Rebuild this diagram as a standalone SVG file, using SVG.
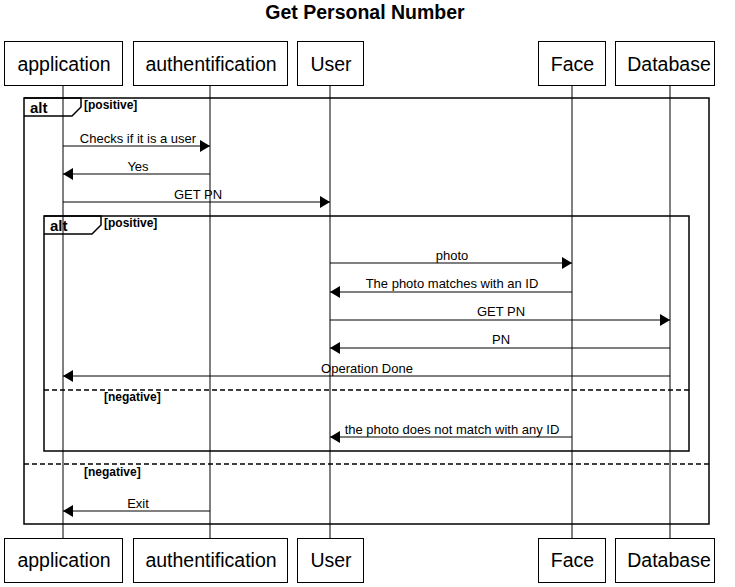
<svg xmlns="http://www.w3.org/2000/svg" width="735" height="587" viewBox="0 0 735 587">
<style>
.box{fill:#fff;stroke:#000;stroke-width:1}
.ptxt{font-family:"Liberation Sans",Arial,sans-serif;font-size:19.5px;text-anchor:middle;fill:#000}
.life{stroke:#000;stroke-width:1}
.msg{stroke:#000;stroke-width:1;fill:none}
.mtxt{font-family:"Liberation Sans",Arial,sans-serif;font-size:13px;text-anchor:middle;fill:#000}
.frame{fill:none;stroke:#000;stroke-width:1.5}
.sep{stroke:#000;stroke-width:1.5;stroke-dasharray:5,3}
.alt{font-family:"Liberation Sans",Arial,sans-serif;font-size:15px;font-weight:bold;fill:#000}
.guard{font-family:"Liberation Sans",Arial,sans-serif;font-size:12px;font-weight:bold;fill:#000}
</style>
<defs>
<marker id="ah" viewBox="0 0 10 12" refX="10" refY="6" markerWidth="10" markerHeight="12" markerUnits="userSpaceOnUse" orient="auto">
<path d="M0,0 L10,6 L0,12 Z" fill="#000"/>
</marker>
</defs>
<rect width="735" height="587" fill="#fff"/>
<text x="365" y="19" font-family="Liberation Sans,Arial,sans-serif" font-size="19.5" font-weight="bold" text-anchor="middle">Get Personal Number</text>

<g id="lifelines">
<line class="life" x1="63" y1="86" x2="63" y2="538"/>
<line class="life" x1="210" y1="86" x2="210" y2="538"/>
<line class="life" x1="330" y1="86" x2="330" y2="538"/>
<line class="life" x1="572" y1="86" x2="572" y2="538"/>
<line class="life" x1="670" y1="86" x2="670" y2="538"/>
</g>

<g id="application">
<rect class="box" x="4.5" y="41.5" width="118" height="44"/>
<text class="ptxt" x="64" y="71">application</text>
<rect class="box" x="4.5" y="538.5" width="118" height="44"/>
<text class="ptxt" x="64" y="567">application</text>
</g>
<g id="authentification">
<rect class="box" x="133.5" y="41.5" width="154" height="44"/>
<text class="ptxt" x="211" y="71">authentification</text>
<rect class="box" x="133.5" y="538.5" width="154" height="44"/>
<text class="ptxt" x="211" y="567">authentification</text>
</g>
<g id="User">
<rect class="box" x="297.5" y="41.5" width="66" height="44"/>
<text class="ptxt" x="331" y="71">User</text>
<rect class="box" x="297.5" y="538.5" width="66" height="44"/>
<text class="ptxt" x="331" y="567">User</text>
</g>
<g id="Face">
<rect class="box" x="538.5" y="41.5" width="67" height="44"/>
<text class="ptxt" x="572.5" y="71">Face</text>
<rect class="box" x="538.5" y="538.5" width="67" height="44"/>
<text class="ptxt" x="572.5" y="567">Face</text>
</g>
<g id="Database">
<rect class="box" x="615.5" y="41.5" width="99" height="44"/>
<text class="ptxt" x="669" y="71">Database</text>
<rect class="box" x="615.5" y="538.5" width="99" height="44"/>
<text class="ptxt" x="669" y="567">Database</text>
</g>

<g id="frames">
<rect class="frame" x="24" y="98" width="685" height="426"/>
<path class="frame" d="M24,98 H81 V107 L72,116 H24"/>
<text class="alt" x="30" y="113">alt</text>
<text class="guard" x="84" y="109">[positive]</text>
<line class="sep" x1="24" y1="464" x2="709" y2="464"/>
<text class="guard" x="84" y="476">[negative]</text>

<rect class="frame" x="44" y="216" width="645" height="235"/>
<path class="frame" d="M44,216 H101 V225 L92,234 H44"/>
<text class="alt" x="50" y="231">alt</text>
<text class="guard" x="104" y="227">[positive]</text>
<line class="sep" x1="44" y1="390" x2="689" y2="390"/>
<text class="guard" x="104" y="401">[negative]</text>
</g>

<g id="connectors">
<line class="msg" x1="63" y1="146" x2="210" y2="146" marker-end="url(#ah)"/>
<text class="mtxt" x="138" y="143">Checks if it is a user</text>
<line class="msg" x1="210" y1="174" x2="63" y2="174" marker-end="url(#ah)"/>
<text class="mtxt" x="138" y="171">Yes</text>
<line class="msg" x1="63" y1="202" x2="330" y2="202" marker-end="url(#ah)"/>
<text class="mtxt" x="198" y="199">GET PN</text>
<line class="msg" x1="330" y1="263" x2="572" y2="263" marker-end="url(#ah)"/>
<text class="mtxt" x="452" y="260">photo</text>
<line class="msg" x1="572" y1="292" x2="330" y2="292" marker-end="url(#ah)"/>
<text class="mtxt" x="452" y="288">The photo matches with an ID</text>
<line class="msg" x1="330" y1="320" x2="670" y2="320" marker-end="url(#ah)"/>
<text class="mtxt" x="501" y="316">GET PN</text>
<line class="msg" x1="670" y1="348" x2="330" y2="348" marker-end="url(#ah)"/>
<text class="mtxt" x="501" y="344">PN</text>
<line class="msg" x1="670" y1="376" x2="63" y2="376" marker-end="url(#ah)"/>
<text class="mtxt" x="367" y="373">Operation Done</text>
<line class="msg" x1="572" y1="437" x2="330" y2="437" marker-end="url(#ah)"/>
<text class="mtxt" x="452" y="434">the photo does not match with any ID</text>
<line class="msg" x1="210" y1="511" x2="63" y2="511" marker-end="url(#ah)"/>
<text class="mtxt" x="138" y="508">Exit</text>
</g>
</svg>
